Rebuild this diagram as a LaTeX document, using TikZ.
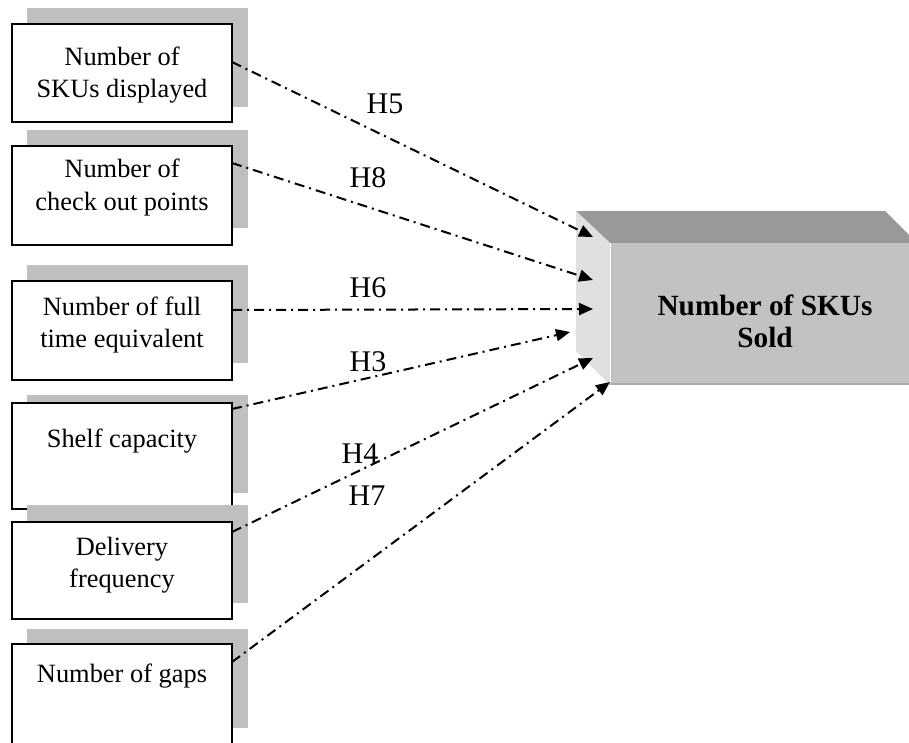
\documentclass[tikz,border=0pt]{standalone}
\usepackage{fontspec}
\setmainfont{Liberation Serif}
\usetikzlibrary{arrows.meta}
\begin{document}
\begin{tikzpicture}[x=1pt,y=-1pt,
  box/.style={draw=black, line width=1.5pt, fill=white, minimum width=220pt, inner sep=0pt, outer sep=0pt},
  boxtext/.style={anchor=base, inner sep=0pt, font=\fontsize{26.4}{32}\selectfont},
  hlabel/.style={anchor=base, inner sep=0pt, font=\fontsize{30}{36}\selectfont},
  soldtext/.style={anchor=base, inner sep=0pt, font=\fontsize{29.3}{32}\selectfont\bfseries},
  conn/.style={line width=2pt, dash pattern=on 10pt off 5pt on 2pt off 5pt, -{Triangle[length=14pt,width=12pt]}}
]
\useasboundingbox (0,0) rectangle (909,742);
\clip (0,0) rectangle (909,742);
% shadows
\fill[gray!50!white] (27,8) rectangle (248,107);
\fill[gray!50!white] (27,130) rectangle (248,228);
\fill[gray!50!white] (27,265) rectangle (248,363);
\fill[gray!50!white] (27,395) rectangle (248,493);
% boxes
\node[box, minimum height=98pt] (b1) at (122,73) {};
\node[box, minimum height=99pt] (b2) at (122,195.5) {};
\node[box, minimum height=99pt] (b3) at (122,330.5) {};
\node[box, minimum height=106pt] (b4) at (122,456) {};
\fill[gray!50!white] (27,505) rectangle (248,603);
\node[box, minimum height=97pt] (b5) at (122,570.5) {};
\fill[gray!50!white] (27,629) rectangle (248,728);
\node[box, minimum height=101pt] (b6) at (122,694.5) {};
% texts
\node[boxtext] (t1a) at (122,65) {Number of};
\node[boxtext] (t1b) at (122,97) {SKUs displayed};
\node[boxtext] (t2a) at (122,177) {Number of};
\node[boxtext] (t2b) at (122,210) {check out points};
\node[boxtext] (t3a) at (122,315) {Number of full};
\node[boxtext] (t3b) at (122,347) {time equivalent};
\node[boxtext] (t4a) at (122,447) {Shelf capacity};
\node[boxtext] (t5a) at (122,555) {Delivery};
\node[boxtext] (t5b) at (122,587) {frequency};
\node[boxtext] (t6a) at (122,682) {Number of gaps};
% big 3D box
\fill[black!40] (576,211) -- (885,211) -- (917,243) -- (610,243) -- cycle;
\fill[black!12] (576,211) -- (610,243) -- (610,385) -- (576,351) -- cycle;
\node[fill=black!24, minimum width=310pt, minimum height=142pt, inner sep=0pt, outer sep=0pt] (sold) at (765,314) {};
\draw[white, line width=1pt] (610.5,243) -- (610.5,385);
\draw[black!33, line width=2pt] (610,384) -- (920,384);
\node[soldtext] (s1) at (765,315) {Number of SKUs};
\node[soldtext] (s2) at (765,347) {Sold};
% arrow tips
\coordinate (e5) at (593,237);
\coordinate (e8) at (593,280);
\coordinate (e6) at (593,309);
\coordinate (e3) at (570,332);
\coordinate (e4) at (593,358);
\coordinate (e7) at (610,382);
% connectors
\draw[conn] ([yshift=-38pt]b1.north east) -- (e5);
\draw[conn] ([yshift=-17pt]b2.north east) -- (e8);
\draw[conn] ([yshift=-29pt]b3.north east) -- (e6);
\draw[conn] ([yshift=-6pt]b4.north east) -- (e3);
\draw[conn] ([yshift=-10pt]b5.north east) -- (e4);
\draw[conn] ([yshift=-18pt]b6.north east) -- (e7);
% labels
\node[hlabel] (h5) at (385,113) {H5};
\node[hlabel] (h8) at (368,187) {H8};
\node[hlabel] (h6) at (368,297) {H6};
\node[hlabel] (h3) at (368,371) {H3};
\node[hlabel] (h4) at (360,463) {H4};
\node[hlabel] (h7) at (367,505) {H7};
\end{tikzpicture}
\end{document}
